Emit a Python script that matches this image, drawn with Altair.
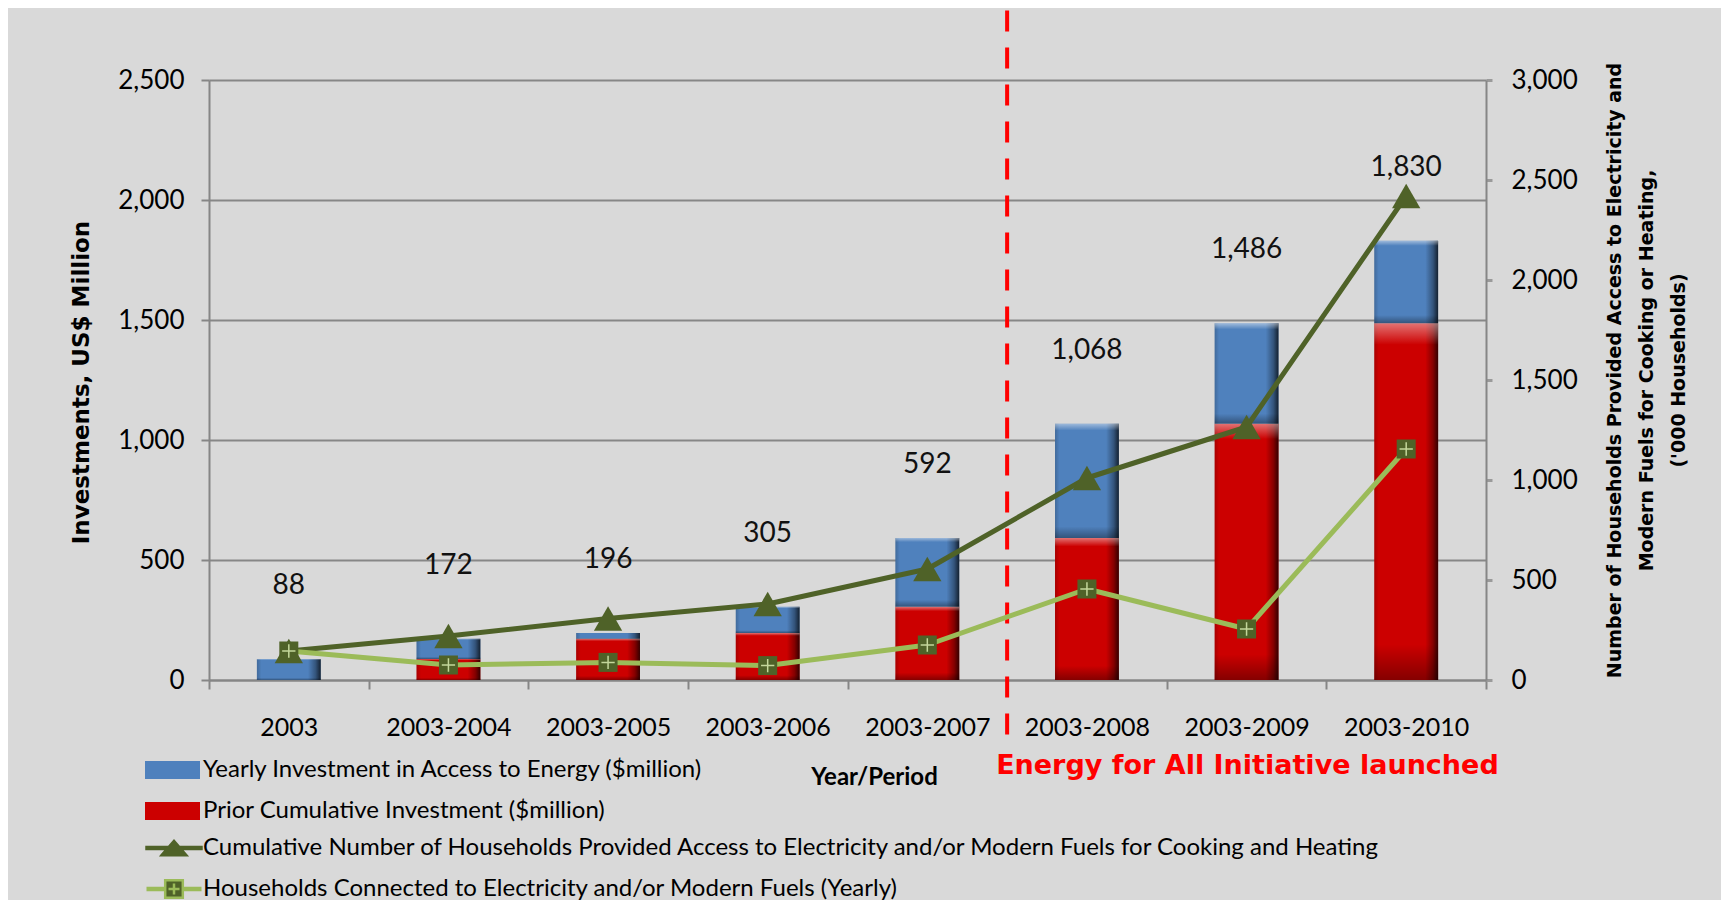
import altair as alt
import pandas as pd

# ---------------- data ----------------
categories = ["2003", "2003-2004", "2003-2005", "2003-2006", "2003-2007",
              "2003-2008", "2003-2009", "2003-2010"]
prior_investment = [0, 88, 172, 196, 305, 592, 1068, 1486]
yearly_investment = [88, 84, 24, 109, 287, 476, 418, 344]
cumulative_households = [145, 220, 308, 380, 555, 1010, 1265, 2420]
yearly_households = [145, 75, 88, 72, 175, 455, 255, 1155]
left_ticks = [0, 500, 1000, 1500, 2000, 2500]
right_ticks = [0, 500, 1000, 1500, 2000, 2500, 3000]
bar_series = ["Yearly Investment in Access to Energy ($million)",
              "Prior Cumulative  Investment ($million)"]
line_series = ["Cumulative Number of Households  Provided Access to Electricity and/or Modern Fuels for Cooking and Heating",
               "Households Connected to Electricity and/or Modern Fuels (Yearly)"]
launch_after = categories[4]
annotation = "Energy for All Initiative launched"

# ---------------- tables ----------------
bar_rows = []
for c, p, y in zip(categories, prior_investment, yearly_investment):
    bar_rows.append({"cat": c, "series": bar_series[1], "y0": 0, "y1": p})
    bar_rows.append({"cat": c, "series": bar_series[0], "y0": p, "y1": p + y})
bars_df = pd.DataFrame(bar_rows)
totals_df = pd.DataFrame({"cat": categories,
                          "top": [p + y for p, y in zip(prior_investment, yearly_investment)]})
hh_df = pd.DataFrame({"cat": categories, "cum": cumulative_households, "yr": yearly_households})
launch_df = pd.DataFrame({"cat": [launch_after]})
legend_df = pd.DataFrame({"lseries": line_series})

# ---------------- styles ----------------
BLUE = "#4F81BD"
RED = "#CC0000"
OLIVE = "#4F6228"
LGREEN = "#9BBB59"
AXIS_GRAY = "#868686"
LABEL_FONT = "Lato"
TITLE_FONT = "DejaVu Sans"

xscale = alt.Scale(domain=categories, paddingInner=0, paddingOuter=0)


def lscale():
    return alt.Scale(domain=[0, 2500], nice=False, zero=False)


def rscale():
    return alt.Scale(domain=[0, 3000], nice=False, zero=False)


x_axis = alt.Axis(title="Year/Period", labelAngle=0, tickBand="extent", ticks=True,
                  tickSize=9, tickWidth=2, tickColor=AXIS_GRAY, domainColor=AXIS_GRAY,
                  domainWidth=2, labelFont=LABEL_FONT, labelFontSize=25, labelPadding=26,
                  labelColor="black", labelBaseline="top", labelOverlap=False,
                  titleFont=LABEL_FONT, titleFontWeight="bold", titleFontSize=24,
                  titleColor="black", titleX=665, titleY=97, titleAlign="center",
                  titleBaseline="middle")

left_axis = alt.Axis(orient="left", values=left_ticks, format=",.0f", grid=True,
                     gridColor="#878787", gridWidth=2, domainColor=AXIS_GRAY, domainWidth=2,
                     tickColor=AXIS_GRAY, tickWidth=2, tickSize=8,
                     labelFont=LABEL_FONT, labelFontSize=26, labelPadding=17, labelColor="black",
                     title="Investments, US$ Million", titleFont=TITLE_FONT, titleFontSize=23,
                     titleFontWeight="bold", titleColor="black", titleAngle=270,
                     titleX=-128, titleY=302, titleAlign="center", titleBaseline="middle")

right_axis = alt.Axis(orient="right", values=right_ticks, format=",.0f", grid=False,
                      domainColor=AXIS_GRAY, domainWidth=2, tickColor="#9A9A9A", tickWidth=3,
                      tickSize=6, labelFont=LABEL_FONT, labelFontSize=26, labelPadding=19,
                      labelColor="black",
                      title=["Number of Households  Provided Access to Electricity and",
                             "Modern Fuels for Cooking or Heating,",
                             "('000 Households)"],
                      titleFont=TITLE_FONT, titleFontSize=19, titleFontWeight="bold",
                      titleColor="black", titleAngle=270, titleX=119, titleY=290,
                      titleAlign="center", titleBaseline="top", titleLineHeight=32)

bar_legend = alt.Legend(orient="none", legendX=-64, legendY=679, direction="vertical",
                        title=None, symbolType="M-1,-0.33L1,-0.33L1,0.33L-1,0.33Z",
                        symbolSize=3025, symbolStrokeWidth=0, clipHeight=22, rowPadding=17,
                        labelFont=LABEL_FONT, labelFontSize=24, labelColor="black",
                        labelLimit=1500, labelOffset=3, padding=0)

line_legend = alt.Legend(orient="none", legendX=-64, legendY=757, direction="vertical",
                         title=None, symbolSize=3025, symbolStrokeWidth=2.5,
                         clipHeight=22, rowPadding=17,
                         labelFont=LABEL_FONT, labelFontSize=24, labelColor="black",
                         labelLimit=1500, labelOffset=0, padding=0)

legend_shapes = [
    "M-1,-0.04L1,-0.04L1,0.04L-1,0.04ZM-0.45,0.26L0,-0.26L0.45,0.26Z",
    "M-1,-0.04L-0.33,-0.04M-1,0.04L-0.33,0.04M0.33,-0.04L1,-0.04M0.33,0.04L1,0.04"
    "M-0.32,-0.32L0.32,-0.32L0.32,0.32L-0.32,0.32Z"
    "M0,-0.2L0,0.2M-0.2,0L0.2,0",
]

shade_h = alt.LinearGradient(gradient="linear", x1=0, y1=0, x2=1, y2=0, stops=[
    alt.GradientStop(offset=0, color="rgba(0,0,0,0.18)"),
    alt.GradientStop(offset=0.07, color="rgba(0,0,0,0)"),
    alt.GradientStop(offset=0.8, color="rgba(0,0,0,0)"),
    alt.GradientStop(offset=0.92, color="rgba(0,0,0,0.35)"),
    alt.GradientStop(offset=1, color="rgba(0,0,0,0.75)")])
shade_v = alt.LinearGradient(gradient="linear", x1=0, y1=0, x2=0, y2=1, stops=[
    alt.GradientStop(offset=0, color="rgba(255,255,255,0.45)"),
    alt.GradientStop(offset=0.06, color="rgba(255,255,255,0)"),
    alt.GradientStop(offset=0.9, color="rgba(0,0,0,0)"),
    alt.GradientStop(offset=1, color="rgba(0,0,0,0.35)")])

bw = alt.RelativeBandSize(band=0.4)


def X(**kw):
    # identical axis definition in every layer so that the shared x axis merges cleanly
    return alt.X("cat:N", scale=xscale, axis=x_axis, **kw)


# ---------------- left-axis layers ----------------
bars = alt.Chart(bars_df).mark_bar(width=bw, strokeWidth=0).encode(
    x=X(),
    y=alt.Y("y0:Q", scale=lscale(), axis=left_axis),
    y2="y1:Q",
    fill=alt.Fill("series:N", scale=alt.Scale(domain=bar_series, range=[BLUE, RED]),
                  legend=bar_legend),
)
over_h = alt.Chart(bars_df).mark_bar(width=bw, fill=shade_h, strokeWidth=0).encode(
    x=X(), y=alt.Y("y0:Q", scale=lscale(), axis=None), y2="y1:Q",
)
over_v = alt.Chart(bars_df).mark_bar(width=bw, fill=shade_v, strokeWidth=0).encode(
    x=X(), y=alt.Y("y0:Q", scale=lscale(), axis=None), y2="y1:Q",
)
labels = alt.Chart(totals_df).mark_text(font=LABEL_FONT, fontSize=28, dy=-73,
                                        baseline="middle", color="#111111").encode(
    x=X(), y=alt.Y("top:Q", scale=lscale(), axis=None),
    text=alt.Text("top:Q", format=","),
)
launch_rule = alt.Chart(launch_df).mark_rule(color="#FF0000", strokeWidth=4,
                                             strokeDash=[21, 16]).encode(
    x=X(bandPosition=1),
    y=alt.YDatum(2790, type="quantitative", scale=lscale(), axis=None),
    y2=alt.Y2Datum(-258),
)
launch_text = alt.Chart(launch_df).mark_text(text=annotation, font=TITLE_FONT,
                                             fontWeight="bold", fontSize=27, color="#FF0000",
                                             align="left", baseline="middle",
                                             dx=-11, dy=86).encode(
    x=X(bandPosition=1),
    y=alt.YDatum(0, type="quantitative", scale=lscale(), axis=None),
)

# ---------------- right-axis layers ----------------
base_r = alt.Chart(hh_df)
cum_line = base_r.mark_line(color=OLIVE, strokeWidth=5, strokeJoin="round").encode(
    x=X(), y=alt.Y("cum:Q", scale=rscale(), axis=right_axis),
)
cum_pts = base_r.mark_point(shape="triangle-up", filled=True, color=OLIVE, size=800,
                            opacity=1).encode(
    x=X(), y=alt.Y("cum:Q", scale=rscale(), axis=None),
)
yr_line = base_r.mark_line(color=LGREEN, strokeWidth=5, strokeJoin="round").encode(
    x=X(), y=alt.Y("yr:Q", scale=rscale(), axis=None),
)
yr_sq = base_r.mark_point(shape="square", filled=True, color=OLIVE, size=361,
                          opacity=1).encode(
    x=X(), y=alt.Y("yr:Q", scale=rscale(), axis=None),
)
yr_plus = base_r.mark_point(shape="M0,-0.7L0,0.7M-0.7,0L0.7,0", filled=False,
                            color="#C4D79B", strokeWidth=1.5, size=361, opacity=1).encode(
    x=X(), y=alt.Y("yr:Q", scale=rscale(), axis=None),
)

# ---------------- legend for the two line series ----------------
line_key = alt.Chart(legend_df).transform_filter("false").mark_point(
    filled=True, fill=OLIVE, strokeWidth=2.5, opacity=1).encode(
    shape=alt.Shape("lseries:N", scale=alt.Scale(domain=line_series, range=legend_shapes),
                    legend=line_legend),
    stroke=alt.Stroke("lseries:N", scale=alt.Scale(domain=line_series, range=[OLIVE, LGREEN]),
                      legend=line_legend),
)

chart = alt.layer(bars, over_h, over_v, labels, launch_rule, launch_text,
                  cum_line, cum_pts, yr_line, yr_sq, yr_plus, line_key).resolve_scale(
    y="independent").properties(
    width=1277, height=600,
    padding={"left": 201, "top": 72, "right": 235, "bottom": 220},
    autosize=alt.AutoSizeParams(type="none"),
    background="#D9D9D9",
).configure_view(strokeWidth=0)

chart.save("out.html", embed_options={"renderer": "svg", "actions": False})
